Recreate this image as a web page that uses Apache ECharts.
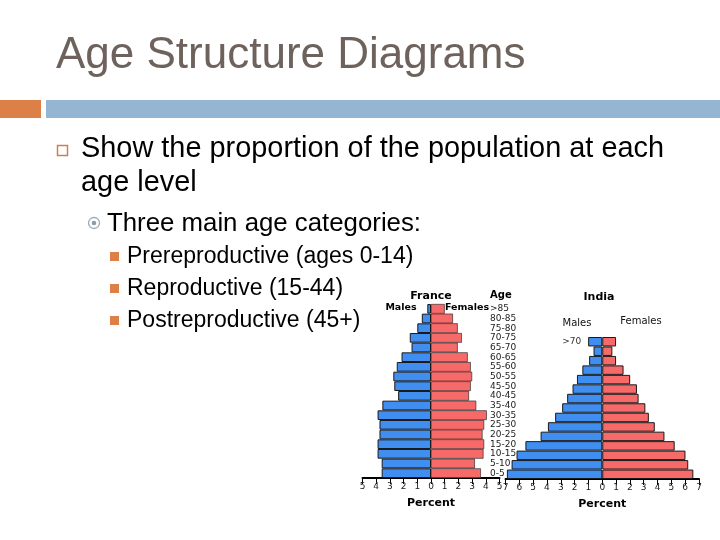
<!DOCTYPE html>
<html>
<head>
<meta charset="utf-8">
<script src="https://cdn.jsdelivr.net/npm/echarts@6/dist/echarts.min.js"></script>
<style>html,body{margin:0;padding:0;background:#fff}#c{width:720px;height:540px}</style>
</head>
<body>
<div id="c"></div>
<script>
// France age groups (bottom to top)
var franceAges = ['0-5','5-10','10-15','15-20','20-25','25-30','30-35','35-40','40-45','45-50','50-55','55-60','60-65','65-70','70-75','75-80','80-85','>85'];
var franceMales   = [3.6, 3.6, 3.9, 3.9, 3.76, 3.76, 3.9, 3.55, 2.4, 2.68, 2.75, 2.5, 2.15, 1.42, 1.55, 1.0, 0.67, 0.27];
var franceFemales = [3.64, 3.2, 3.83, 3.88, 3.76, 3.88, 4.07, 3.3, 2.77, 2.9, 3.0, 2.9, 2.68, 1.95, 2.25, 1.95, 1.6, 1.0];

// India age groups (bottom to top)
var indiaAges = ['0-5','5-10','10-15','15-20','20-25','25-30','30-35','35-40','40-45','45-50','50-55','55-60','60-65','65-70','>70'];
var indiaMales   = [6.9, 6.56, 6.2, 5.56, 4.46, 3.93, 3.41, 2.9, 2.54, 2.15, 1.83, 1.44, 0.95, 0.63, 1.02];
var indiaFemales = [6.59, 6.22, 6.02, 5.24, 4.5, 3.8, 3.37, 3.12, 2.63, 2.51, 2.02, 1.54, 1.0, 0.73, 1.0];

var franceTicks = [-5, 5, 1];
var indiaTicks = [-7, 7, 1];

var BLUE = '#3f8ef0', RED = '#f66a6a', EDGE = '#1a1a1a';
var chartFont = 'DejaVu Sans';
var slideFont = 'Liberation Sans, Arial, sans-serif';

function neg(a){ return a.map(function(v){ return -v; }); }

var indiaMaleData = neg(indiaMales).map(function(v, i){
  if (i === indiaAges.length - 1) {
    return {value: v, label: {show: true, position: 'left', distance: 7, formatter: indiaAges[i], fontSize: 9, color: '#333', fontFamily: chartFont}};
  }
  return v;
});

function xAxisCfg(gi, t){
  return {
    gridIndex: gi, type: 'value', min: t[0], max: t[1], interval: t[2],
    axisLine: {show: true, onZero: false, lineStyle: {color: '#000', width: 2}},
    axisTick: {show: true, length: 6, lineStyle: {color: '#000', width: 1}},
    axisLabel: {formatter: function(v){ return Math.abs(v); }, fontSize: 9, color: '#222', margin: 4, fontFamily: chartFont},
    splitLine: {show: false},
    name: 'Percent', nameLocation: 'middle', nameGap: 20,
    nameTextStyle: {fontSize: 11, fontWeight: 'bold', color: '#000', fontFamily: chartFont}
  };
}

var barBase = {type: 'bar', barCategoryGap: '0%', barWidth: '100%'};

var option = {
  animation: false,
  backgroundColor: '#fff',
  grid: [
    {left: 362.5, right: 220.5, top: 304, bottom: 62},
    {left: 505.5, right: 21, top: 337, bottom: 61}
  ],
  xAxis: [xAxisCfg(0, franceTicks), xAxisCfg(1, indiaTicks)],
  yAxis: [
    {gridIndex: 0, type: 'category', data: franceAges, position: 'right', offset: -9.5,
     axisLine: {show: false, onZero: false}, axisTick: {show: false},
     axisLabel: {show: true, interval: 0, margin: 0, align: 'left', fontSize: 9, color: '#222', fontFamily: chartFont}},
    {gridIndex: 1, type: 'category', data: indiaAges,
     axisLine: {show: false}, axisTick: {show: false}, axisLabel: {show: false}}
  ],
  series: [
    Object.assign({}, barBase, {name: 'France Males', stack: 'fr', xAxisIndex: 0, yAxisIndex: 0, data: neg(franceMales),
      itemStyle: {color: BLUE, borderColor: EDGE, borderWidth: 1}}),
    Object.assign({}, barBase, {name: 'France Females', stack: 'fr', xAxisIndex: 0, yAxisIndex: 0, data: franceFemales,
      itemStyle: {color: RED, borderColor: EDGE, borderWidth: 0.6}}),
    Object.assign({}, barBase, {name: 'India Males', stack: 'in', xAxisIndex: 1, yAxisIndex: 1, data: indiaMaleData,
      itemStyle: {color: BLUE, borderColor: EDGE, borderWidth: 1}}),
    Object.assign({}, barBase, {name: 'India Females', stack: 'in', xAxisIndex: 1, yAxisIndex: 1, data: indiaFemales,
      itemStyle: {color: RED, borderColor: EDGE, borderWidth: 1}})
  ],
  graphic: [
    {type: 'text', left: 56, top: 34, style: {text: 'Age Structure Diagrams', font: '44px ' + slideFont, fill: '#6e625d'}},
    {type: 'rect', shape: {x: 0, y: 100, width: 41, height: 18}, style: {fill: '#dd8047'}},
    {type: 'rect', shape: {x: 46, y: 100, width: 674, height: 18}, style: {fill: '#94b6d2'}},
    {type: 'rect', shape: {x: 57.5, y: 145.5, width: 10, height: 10}, style: {fill: '#fff', stroke: '#c8824f', lineWidth: 1.5}},
    {type: 'text', left: 81, top: 135, style: {text: 'Show the proportion of the population at each', font: '28.9px ' + slideFont, fill: '#000'}},
    {type: 'text', left: 81, top: 169, style: {text: 'age level', font: '28.9px ' + slideFont, fill: '#000'}},
    {type: 'circle', shape: {cx: 94, cy: 223, r: 5.5}, style: {fill: '#fff', stroke: '#9aabb8', lineWidth: 1.3}},
    {type: 'circle', shape: {cx: 94, cy: 223, r: 2.3}, style: {fill: '#8a9daa'}},
    {type: 'text', left: 107, top: 211, style: {text: 'Three main age categories:', font: '25.8px ' + slideFont, fill: '#000'}},
    {type: 'rect', shape: {x: 110, y: 252, width: 9, height: 9}, style: {fill: '#dd8047'}},
    {type: 'text', left: 127, top: 245, style: {text: 'Prereproductive (ages 0-14)', font: '23px ' + slideFont, fill: '#000'}},
    {type: 'rect', shape: {x: 110, y: 284, width: 9, height: 9}, style: {fill: '#dd8047'}},
    {type: 'text', left: 127, top: 277, style: {text: 'Reproductive (15-44)', font: '23px ' + slideFont, fill: '#000'}},
    {type: 'rect', shape: {x: 110, y: 316, width: 9, height: 9}, style: {fill: '#dd8047'}},
    {type: 'text', left: 127, top: 309, style: {text: 'Postreproductive (45+)', font: '23px ' + slideFont, fill: '#000'}},

    {type: 'text', x: 431, y: 296, style: {text: 'France', font: 'bold 11px ' + chartFont, fill: '#000', align: 'center', verticalAlign: 'middle'}},
    {type: 'text', x: 401, y: 308, style: {text: 'Males', font: 'bold 9.5px ' + chartFont, fill: '#000', align: 'center', verticalAlign: 'middle'}},
    {type: 'text', x: 467, y: 308, style: {text: 'Females', font: 'bold 9.5px ' + chartFont, fill: '#000', align: 'center', verticalAlign: 'middle'}},
    {type: 'text', x: 490, y: 295, style: {text: 'Age', font: 'bold 10px ' + chartFont, fill: '#000', align: 'left', verticalAlign: 'middle'}},
    {type: 'text', x: 599, y: 297, style: {text: 'India', font: 'bold 11px ' + chartFont, fill: '#000', align: 'center', verticalAlign: 'middle'}},
    {type: 'text', x: 577, y: 323, style: {text: 'Males', font: '10px ' + chartFont, fill: '#111', align: 'center', verticalAlign: 'middle'}},
    {type: 'text', x: 641, y: 321, style: {text: 'Females', font: '10px ' + chartFont, fill: '#111', align: 'center', verticalAlign: 'middle'}}
  ]
};

var chart = echarts.init(document.getElementById('c'), null, {renderer: 'canvas'});
chart.setOption(option);
</script>
</body>
</html>
